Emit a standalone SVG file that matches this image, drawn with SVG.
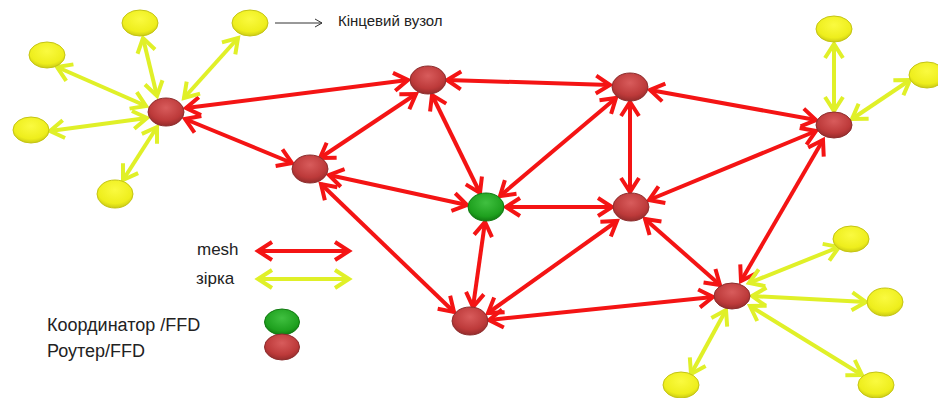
<svg xmlns="http://www.w3.org/2000/svg" width="938" height="398" viewBox="0 0 938 398">
<style>
.mesh{stroke:#f41414;stroke-width:4;fill:none;marker-start:url(#ar);marker-end:url(#ar)}
.star{stroke:#e0f028;stroke-width:4;fill:none;marker-start:url(#ay);marker-end:url(#ay)}
.r{fill:url(#gr);stroke:#8c2e2e;stroke-width:1}
.y{fill:url(#gy);stroke:#c4c414;stroke-width:1}
.g{fill:url(#gg);stroke:#127a12;stroke-width:1}
text{font-family:"Liberation Sans",Arial,sans-serif;fill:#222}
</style>
<defs>
<radialGradient id="gr" cx="50%" cy="35%" r="65%"><stop offset="0" stop-color="#d85c5c"/><stop offset="0.7" stop-color="#bd3a3a"/><stop offset="1" stop-color="#962c2c"/></radialGradient>
<radialGradient id="gy" cx="50%" cy="35%" r="65%"><stop offset="0" stop-color="#fafa40"/><stop offset="0.75" stop-color="#eeee1c"/><stop offset="1" stop-color="#cccc14"/></radialGradient>
<radialGradient id="gg" cx="50%" cy="35%" r="65%"><stop offset="0" stop-color="#40c040"/><stop offset="0.75" stop-color="#1ea01e"/><stop offset="1" stop-color="#127a12"/></radialGradient>
<marker id="ar" viewBox="0 0 22 22" refX="18" refY="11" markerWidth="22" markerHeight="22" markerUnits="userSpaceOnUse" orient="auto-start-reverse"><path d="M4,2 L18,11 L4,20" fill="none" stroke="#f41414" stroke-width="4" stroke-linejoin="miter"/></marker>
<marker id="ay" viewBox="0 0 22 22" refX="18" refY="11" markerWidth="22" markerHeight="22" markerUnits="userSpaceOnUse" orient="auto-start-reverse"><path d="M4,2 L18,11 L4,20" fill="none" stroke="#e0f028" stroke-width="4" stroke-linejoin="miter"/></marker>
<marker id="ak" viewBox="0 0 10 10" refX="9" refY="5" markerWidth="10" markerHeight="10" markerUnits="userSpaceOnUse" orient="auto"><path d="M2,1 L9,5 L2,9" fill="none" stroke="#333" stroke-width="1"/></marker>
</defs>
<rect width="938" height="398" fill="#fff"/>
<g id="connectors">
<line class="mesh" x1="186" y1="108" x2="408" y2="80"/>
<line class="mesh" x1="185" y1="119" x2="292" y2="163"/>
<line class="mesh" x1="320" y1="158" x2="416" y2="94"/>
<line class="mesh" x1="447" y1="80" x2="610" y2="85"/>
<line class="mesh" x1="650" y1="90" x2="816" y2="120"/>
<line class="mesh" x1="432" y1="95" x2="480" y2="193"/>
<line class="mesh" x1="616" y1="98" x2="500" y2="196"/>
<line class="mesh" x1="630" y1="102" x2="630" y2="192"/>
<line class="mesh" x1="329" y1="175" x2="467" y2="205"/>
<line class="mesh" x1="506" y1="207" x2="612" y2="207"/>
<line class="mesh" x1="485" y1="222" x2="473" y2="307"/>
<line class="mesh" x1="321" y1="184" x2="454" y2="312"/>
<line class="mesh" x1="617" y1="221" x2="488" y2="313"/>
<line class="mesh" x1="649" y1="200" x2="816" y2="131"/>
<line class="mesh" x1="823" y1="140" x2="741" y2="281"/>
<line class="mesh" x1="645" y1="219" x2="720" y2="285"/>
<line class="mesh" x1="489" y1="320" x2="713" y2="297"/>
<line class="star" x1="143" y1="38" x2="157" y2="96"/>
<line class="star" x1="238" y1="38" x2="184" y2="98"/>
<line class="star" x1="57" y1="67" x2="146" y2="106"/>
<line class="star" x1="50" y1="131" x2="147" y2="118"/>
<line class="star" x1="123" y1="180" x2="157" y2="127"/>
<line class="star" x1="834" y1="44" x2="834" y2="111"/>
<line class="star" x1="910" y1="80" x2="852" y2="119"/>
<line class="star" x1="749" y1="283" x2="839" y2="247"/>
<line class="star" x1="752" y1="296" x2="866" y2="302"/>
<line class="star" x1="750" y1="306" x2="862" y2="375"/>
<line class="star" x1="726" y1="310" x2="691" y2="374"/>
<line class="mesh" x1="258" y1="251" x2="349" y2="251"/>
<line class="star" x1="258" y1="279" x2="349" y2="279"/>
<line x1="275" y1="23" x2="322" y2="23" stroke="#333" stroke-width="1" marker-end="url(#ak)"/>
</g>
<g id="routerA"><ellipse class="r" cx="166" cy="112" rx="18" ry="14"/></g>
<g id="routerB"><ellipse class="r" cx="310" cy="169" rx="18" ry="14"/></g>
<g id="routerC"><ellipse class="r" cx="428" cy="80" rx="18" ry="14"/></g>
<g id="routerD"><ellipse class="r" cx="630" cy="87" rx="18" ry="14"/></g>
<g id="coordinator"><ellipse class="g" cx="486" cy="207" rx="18" ry="14"/></g>
<g id="routerF"><ellipse class="r" cx="631" cy="207" rx="18" ry="14"/></g>
<g id="routerG"><ellipse class="r" cx="470" cy="321" rx="18" ry="14"/></g>
<g id="routerH"><ellipse class="r" cx="834" cy="125" rx="18" ry="13"/></g>
<g id="routerI"><ellipse class="r" cx="732" cy="296" rx="18" ry="13"/></g>
<g id="end1"><ellipse class="y" cx="140" cy="23" rx="18" ry="13"/></g>
<g id="end2"><ellipse class="y" cx="250" cy="23" rx="18" ry="13"/></g>
<g id="end3"><ellipse class="y" cx="47" cy="55" rx="18" ry="13"/></g>
<g id="end4"><ellipse class="y" cx="31" cy="130" rx="18" ry="13"/></g>
<g id="end5"><ellipse class="y" cx="115" cy="194" rx="18" ry="14"/></g>
<g id="end6"><ellipse class="y" cx="834" cy="29" rx="18" ry="13"/></g>
<g id="end7"><ellipse class="y" cx="927" cy="75" rx="18" ry="13"/></g>
<g id="end8"><ellipse class="y" cx="851" cy="239" rx="18" ry="13"/></g>
<g id="end9"><ellipse class="y" cx="885" cy="302" rx="18" ry="14"/></g>
<g id="end10"><ellipse class="y" cx="876" cy="385" rx="18" ry="13"/></g>
<g id="end11"><ellipse class="y" cx="681" cy="385" rx="18" ry="13"/></g>
<g id="legend">
<text x="338" y="26" font-size="15">Кінцевий вузол</text>
<text x="197" y="255" font-size="17">mesh</text>
<text x="196" y="284" font-size="17">зірка</text>
<text x="47" y="331" font-size="18">Координатор /FFD</text>
<text x="47" y="357" font-size="18">Роутер/FFD</text>
<ellipse class="g" cx="282" cy="322" rx="17.5" ry="13"/>
<ellipse class="r" cx="282" cy="347" rx="17.5" ry="13"/>
</g>
</svg>
